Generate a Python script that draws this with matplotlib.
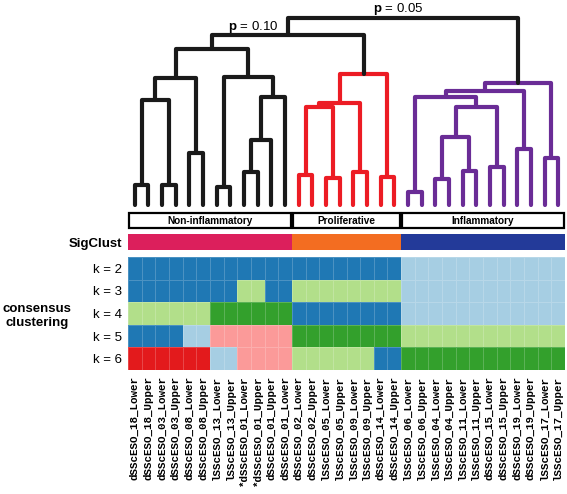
import matplotlib
matplotlib.use('Agg')
import matplotlib.pyplot as plt
from matplotlib.colors import ListedColormap
from matplotlib.patches import Rectangle
import numpy as np

plt.rcParams['font.family'] = ['Liberation Sans', 'DejaVu Sans']
plt.rcParams['mathtext.fontset'] = 'custom'
plt.rcParams['mathtext.rm'] = 'Liberation Sans'
plt.rcParams['mathtext.bf'] = 'Liberation Sans:bold'

# --- data ---
samples = ['dSScESO_18_Lower', 'dSScESO_18_Upper', 'dSScESO_03_Lower', 'dSScESO_03_Upper',
           'dSScESO_08_Lower', 'dSScESO_08_Upper', 'lSScESO_13_Lower', 'lSScESO_13_Upper',
           '*dSScESO_01_Lower', '*dSScESO_01_Upper', 'dSScESO_01_Upper', 'dSScESO_01_Lower',
           'dSScESO_02_Lower', 'dSScESO_02_Upper', 'lSScESO_05_Lower', 'lSScESO_05_Upper',
           'lSScESO_09_Lower', 'lSScESO_09_Upper', 'dSScESO_14_Lower', 'dSScESO_14_Upper',
           'lSScESO_06_Lower', 'lSScESO_06_Upper', 'lSScESO_04_Lower', 'lSScESO_04_Upper',
           'lSScESO_11_Lower', 'lSScESO_11_Upper', 'dSScESO_15_Lower', 'dSScESO_15_Upper',
           'dSScESO_19_Lower', 'dSScESO_19_Upper', 'lSScESO_17_Lower', 'lSScESO_17_Upper']

groups = ['Non-inflammatory', 'Proliferative', 'Inflammatory']
group_sizes = [12, 8, 12]
group_line_colors = ['#1a1a1a', '#ec1c24', '#6a2c96']
sigclust_colors = ['#dc1f5c', '#f36d21', '#233a99']

# linkage: leaves 0..31, new nodes numbered from 32
merge_left = [0, 2, 32, 4, 34, 6, 8, 38, 39, 37, 36,
              12, 14, 16, 18, 43, 47, 48,
              20, 22, 24, 26, 28, 30, 51, 56, 50, 58, 59,
              42, 61]
merge_right = [1, 3, 33, 5, 35, 7, 9, 10, 11, 40, 41,
               13, 15, 17, 19, 44, 45, 46,
               21, 23, 25, 27, 29, 31, 52, 53, 57, 54, 55,
               49, 60]
merge_height = [20, 20, 105, 52, 127, 18, 33, 65, 108, 128, 156,
                30, 27, 33, 28, 98, 102, 131,
                13, 26, 34, 38, 56, 47, 68, 98, 108, 114, 122,
                170, 187]

p_labels = [r'$\mathbf{p}$ = 0.10', r'$\mathbf{p}$ = 0.05']

k_labels = ['k = 2', 'k = 3', 'k = 4', 'k = 5', 'k = 6']
# 0 light blue, 1 blue, 2 light green, 3 green, 4 pink, 5 red
cluster_colors = ['#a6cee3', '#1f78b4', '#b2df8a', '#33a02c', '#fb9a99', '#e31a1c']
consensus = [
    [1, 1, 1, 1, 1, 1, 1, 1, 1, 1, 1, 1, 1, 1, 1, 1, 1, 1, 1, 1, 0, 0, 0, 0, 0, 0, 0, 0, 0, 0, 0, 0],
    [1, 1, 1, 1, 1, 1, 1, 1, 2, 2, 1, 1, 2, 2, 2, 2, 2, 2, 2, 2, 0, 0, 0, 0, 0, 0, 0, 0, 0, 0, 0, 0],
    [2, 2, 2, 2, 2, 2, 3, 3, 3, 3, 3, 3, 1, 1, 1, 1, 1, 1, 1, 1, 0, 0, 0, 0, 0, 0, 0, 0, 0, 0, 0, 0],
    [1, 1, 1, 1, 0, 0, 4, 4, 4, 4, 4, 4, 3, 3, 3, 3, 3, 3, 3, 3, 2, 2, 2, 2, 2, 2, 2, 2, 2, 2, 2, 2],
    [5, 5, 5, 5, 5, 5, 0, 0, 4, 4, 4, 4, 2, 2, 2, 2, 2, 2, 1, 1, 3, 3, 3, 3, 3, 3, 3, 3, 3, 3, 3, 3],
]

W, H = 567, 494
fig = plt.figure(figsize=(W / 100, H / 100), dpi=100)


def px_axes(x0, y0, x1, y1):
    # axes placed by pixel box (top-left origin)
    return fig.add_axes([x0 / W, 1 - y1 / H, (x1 - x0) / W, (y1 - y0) / H])


n = len(samples)
leaf_group = np.repeat(np.arange(len(groups)), group_sizes)

# --- dendrogram ---
ax_d = px_axes(128, 0, 565, 207)
node_x = {i: i + 0.5 for i in range(n)}
node_h = {i: 0.0 for i in range(n)}
node_leaves = {i: {i} for i in range(n)}
for j, (a, b, h) in enumerate(zip(merge_left, merge_right, merge_height)):
    node = n + j
    leaves = node_leaves[a] | node_leaves[b]
    grp = set(leaf_group[list(leaves)])
    color = group_line_colors[grp.pop()] if len(grp) == 1 else group_line_colors[0]
    ax_d.plot([node_x[a], node_x[a], node_x[b], node_x[b]],
              [node_h[a], h, h, node_h[b]],
              color=color, lw=3, solid_capstyle='round', solid_joinstyle='round', clip_on=False)
    node_x[node] = (node_x[a] + node_x[b]) / 2
    node_h[node] = h
    node_leaves[node] = leaves

ax_d.text(9.16, 175, p_labels[0], ha='center', va='baseline', fontsize=9.5)
ax_d.text(19.8, 193, p_labels[1], ha='center', va='baseline', fontsize=9.5)
ax_d.set_xlim(0, n)
ax_d.set_ylim(-2, 205)
ax_d.axis('off')

# --- group header boxes ---
ax_g = px_axes(128, 213, 565, 228)
start = 0
for name, size in zip(groups, group_sizes):
    ax_g.add_patch(Rectangle((start + 0.05, 0), size - 0.1, 1, facecolor='white',
                             edgecolor='black', lw=1.6, clip_on=False))
    ax_g.text(start + size / 2, 0.5, name, ha='center', va='center', fontsize=7.2,
              fontweight='bold')
    start += size
ax_g.set_xlim(0, n)
ax_g.set_ylim(0, 1)
ax_g.axis('off')

# --- SigClust bar ---
ax_s = px_axes(128, 234, 565, 250)
ax_s.pcolormesh(leaf_group[np.newaxis, :], cmap=ListedColormap(sigclust_colors),
                vmin=-0.5, vmax=2.5)
ax_s.set_xlim(0, n)
ax_s.set_xticks([])
ax_s.set_yticks([0.5])
ax_s.set_yticklabels(['SigClust'], fontsize=9.5, fontweight='bold')
ax_s.tick_params(length=0, pad=4)
for sp in ax_s.spines.values():
    sp.set_visible(False)

# --- consensus clustering heatmap ---
ax_h = px_axes(128, 257, 565, 370)
ax_h.pcolormesh(np.array(consensus), cmap=ListedColormap(cluster_colors), vmin=-0.5, vmax=5.5,
                edgecolors=(1, 1, 1, 0.2), linewidth=0.5)
ax_h.set_xlim(0, n)
ax_h.set_ylim(len(k_labels), 0)
ax_h.set_yticks(np.arange(len(k_labels)) + 0.5)
ax_h.set_yticklabels(k_labels, fontsize=9.5)
ax_h.set_xticks(np.arange(n) + 0.5)
ax_h.set_xticklabels(samples, rotation=90, fontfamily='Liberation Mono', fontweight='bold',
                     fontsize=7.8)
ax_h.tick_params(length=0, pad=4)
for sp in ax_h.spines.values():
    sp.set_visible(False)

fig.text(37 / W, 1 - 316 / H, 'consensus\nclustering', ha='center', va='center',
         fontsize=9.5, fontweight='bold', linespacing=1.15)

fig.savefig('out.png', dpi=100)
